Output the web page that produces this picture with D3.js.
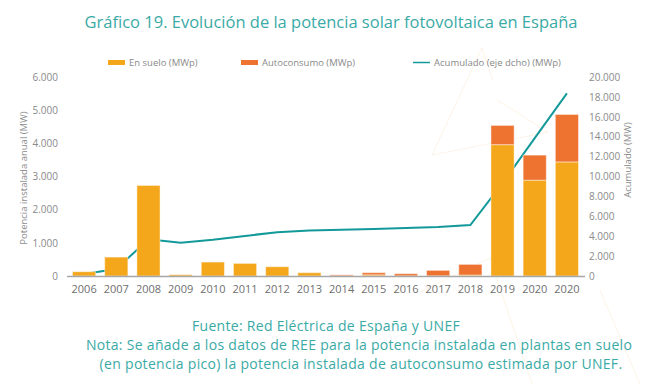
<!DOCTYPE html>
<html><head><meta charset="utf-8">
<script src="https://cdn.jsdelivr.net/npm/d3@7"></script>
<style>
html,body{margin:0;padding:0;background:#fff;}
svg{display:block;font-family:"Open Sans",sans-serif;}
</style></head>
<body>
<svg id="c" width="647" height="384"></svg>
<script>
const categories = ["2006","2007","2008","2009","2010","2011","2012","2013","2014","2015","2016","2017","2018","2019","2020","2020"];
const enSuelo     = [130, 570, 2730, 40, 420, 380, 280, 100, 5, 35, 5, 5, 30, 3960, 2890, 3440];
const autoconsumo = [0, 0, 0, 0, 0, 0, 0, 0, 30, 65, 65, 165, 320, 580, 755, 1430];
const acumulado   = [200, 700, 3700, 3350, 3650, 4030, 4400, 4570, 4660, 4720, 4820, 4920, 5120, 9330, 13850, 18360];
const leftTicks  = [0, 1000, 2000, 3000, 4000, 5000, 6000];
const rightTicks = [0, 2000, 4000, 6000, 8000, 10000, 12000, 14000, 16000, 18000, 20000];
const seriesNames = ["En suelo (MWp)", "Autoconsumo (MWp)", "Acumulado (eje dcho) (MWp)"];
const colors = {suelo:"#F5A71C", auto:"#EE7331", line:"#14999A", text:"#8a8a8a", title:"#3AAAA6"};

const svg = d3.select("#c");
const fmt = v => d3.format(",")(v).replace(/,/g, ".");

// faint decorative lines
const deco = [[[482,48],[432,155]],[[432,155],[548,132]],[[497,100],[548,132]],[[482,48],[493,80]],
              [[420,292],[490,258]],[[490,258],[532,384]],[[600,290],[640,384]]];
deco.forEach(s => svg.append("line").attr("x1",s[0][0]).attr("y1",s[0][1]).attr("x2",s[1][0]).attr("y2",s[1][1])
  .attr("stroke","#fdf0df").attr("stroke-width",0.8));

const x = d3.scaleBand().domain(d3.range(categories.length)).range([68,583]).paddingInner(0.28).paddingOuter(0.14);
const yL = d3.scaleLinear().domain([0,6000]).range([276,77]);
const yR = d3.scaleLinear().domain([0,20000]).range([276,77]);

// title
svg.append("text").attr("x",331).attr("y",28).attr("text-anchor","middle")
  .attr("fill",colors.title).attr("font-size",16.5).text("Gráfico 19. Evolución de la potencia solar fotovoltaica en España");

// legend
const leg = [{x:108,type:"rect",c:colors.suelo,t:seriesNames[0]},{x:241,type:"rect",c:colors.auto,t:seriesNames[1]},{x:413,type:"line",c:colors.line,t:seriesNames[2]}];
leg.forEach(l=>{
  if(l.type==="rect") svg.append("rect").attr("x",l.x).attr("y",60).attr("width",17).attr("height",5).attr("fill",l.c);
  else svg.append("line").attr("x1",l.x).attr("x2",l.x+17).attr("y1",62.5).attr("y2",62.5).attr("stroke",l.c).attr("stroke-width",1.5);
  svg.append("text").attr("x",l.x+21).attr("y",66).attr("font-size",9.5).attr("fill",colors.text).text(l.t);
});

// left axis
const axL = svg.append("g").attr("transform","translate(62,0)")
  .call(d3.axisLeft(yL).tickValues(leftTicks).tickFormat(fmt).tickSize(0).tickPadding(4));
axL.select(".domain").remove();
axL.selectAll("text").attr("font-size",10).attr("fill",colors.text).attr("font-family","Open Sans");
// right axis
const axR = svg.append("g").attr("transform","translate(585,0)")
  .call(d3.axisRight(yR).tickValues(rightTicks).tickFormat(fmt).tickSize(0).tickPadding(4));
axR.select(".domain").remove();
axR.selectAll("text").attr("font-size",10).attr("fill",colors.text).attr("font-family","Open Sans");

// axis titles
svg.append("text").attr("transform","translate(27,178) rotate(-90)").attr("text-anchor","middle")
  .attr("font-size",9.5).attr("fill",colors.text).text("Potencia instalada anual (MW)");
svg.append("text").attr("transform","translate(631,160) rotate(-90)").attr("text-anchor","middle")
  .attr("font-size",9.5).attr("fill",colors.text).text("Acumulado (MW)");

// line (behind bars)
const line = d3.line().x((d,i)=>x(i)+x.bandwidth()/2).y(d=>yR(d));
svg.append("path").datum(acumulado).attr("d",line).attr("fill","none")
  .attr("stroke",colors.line).attr("stroke-width",2);

// bars
const g = svg.append("g");
categories.forEach((c,i)=>{
  g.append("rect").attr("x",x(i)).attr("width",x.bandwidth())
    .attr("y",yL(enSuelo[i])).attr("height",yL(0)-yL(enSuelo[i]))
    .attr("fill",colors.suelo).attr("stroke","rgba(255,255,255,0.45)").attr("stroke-width",1);
  if(autoconsumo[i]>0){
    const top = enSuelo[i]+autoconsumo[i];
    g.append("rect").attr("x",x(i)).attr("width",x.bandwidth())
      .attr("y",yL(top)).attr("height",yL(enSuelo[i])-yL(top))
      .attr("fill",colors.auto).attr("stroke","rgba(255,255,255,0.45)").attr("stroke-width",1);
  }
});

// baseline
svg.append("line").attr("x1",67).attr("x2",585).attr("y1",276.5).attr("y2",276.5).attr("stroke","#a6a6a6").attr("stroke-width",1.5);

// x labels
const axX = svg.append("g").attr("transform","translate(0,277)")
  .call(d3.axisBottom(x).tickFormat(i=>categories[i]).tickSize(0).tickPadding(8));
axX.select(".domain").remove();
axX.selectAll("text").attr("font-size",11).attr("fill","#6f6f6f").attr("font-family","Open Sans");

// footer
const foot = [{x:326,y:331,t:"Fuente: Red Eléctrica de España y UNEF"},
  {x:359,y:350,t:"Nota: Se añade a los datos de REE para la potencia instalada en plantas en suelo"},
  {x:361,y:369,t:"(en potencia pico) la potencia instalada de autoconsumo estimada por UNEF."}];
foot.forEach(f=>svg.append("text").attr("x",f.x).attr("y",f.y).attr("text-anchor","middle")
  .attr("font-size",14).attr("letter-spacing",0.3).attr("fill",colors.title).text(f.t));
</script>
</body></html>
